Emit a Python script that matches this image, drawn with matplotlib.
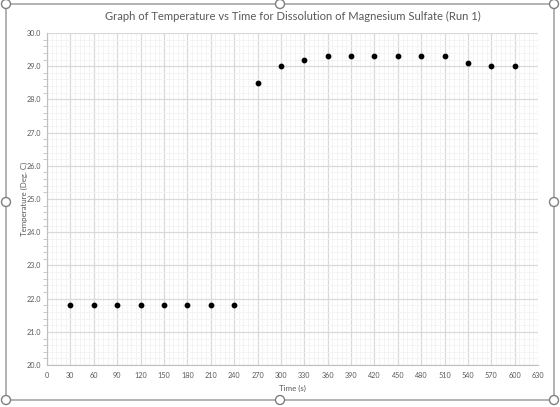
import numpy as np
import matplotlib.pyplot as plt
from matplotlib.patches import Rectangle, Circle
from matplotlib.ticker import MultipleLocator

time_s = [30, 60, 90, 120, 150, 180, 210, 240, 270, 300,
          330, 360, 390, 420, 450, 480, 510, 540, 570, 600]
temp_c = [21.8, 21.8, 21.8, 21.8, 21.8, 21.8, 21.8, 21.8, 28.5, 29.0,
          29.2, 29.3, 29.3, 29.3, 29.3, 29.3, 29.3, 29.1, 29.0, 29.0]

plt.rcParams['font.family'] = ['Lato', 'DejaVu Sans']

fig = plt.figure(figsize=(5.6, 4.07), dpi=100)
ax = fig.add_axes([0.084, 0.103, 0.877, 0.816])

ax.scatter(time_s, temp_c, s=10, color='black', zorder=3)

ax.set_xlim(0, 630)
ax.set_ylim(20, 30)
ax.xaxis.set_major_locator(MultipleLocator(30))
ax.xaxis.set_minor_locator(MultipleLocator(6))
ax.yaxis.set_major_locator(MultipleLocator(1))
ax.yaxis.set_minor_locator(MultipleLocator(0.2))
ax.yaxis.set_major_formatter(lambda v, p: f"{v:.1f}")

ax.grid(which='major', color='#d9d9d9', linewidth=0.9)
ax.grid(which='minor', color='#f2f2f2', linewidth=0.6)
ax.set_axisbelow(True)

for s in ['top', 'right']:
    ax.spines[s].set_visible(False)
ax.spines['left'].set_color('#bfbfbf')
ax.spines['bottom'].set_color('#bfbfbf')
ax.tick_params(which='both', axis='x', length=0, labelsize=5.2, labelcolor='#595959', pad=5)
ax.tick_params(which='major', axis='y', length=0, labelsize=5.2, labelcolor='#595959', pad=4.5)
ax.tick_params(which='minor', axis='y', length=3, color='#bfbfbf', direction='out')

ax.set_xlabel("Time (s)", fontsize=5.7, color='#595959', labelpad=4)
ax.set_ylabel("Temperature (Deg. C)", fontsize=5.7, color='#595959', labelpad=-1)
ax.set_title("Graph of Temperature vs Time for Dissolution of Magnesium Sulfate (Run 1)",
             fontsize=8.1, color='#595959', pad=9)

# chart selection frame with handles
W, H = 560, 407
fig.patches.append(Rectangle((6 / W, 1 - 400 / H), 548 / W, 396 / H, transform=fig.transFigure,
                             fill=False, edgecolor='#a6a6a6', linewidth=1.2, zorder=0))
for hx, hy in [(6, 4), (280, 4), (554, 4), (6, 202), (554, 202), (6, 400), (280, 400), (554, 400)]:
    fig.patches.append(Circle((hx, H - hy), 4.5, transform=None, facecolor='white',
                              edgecolor='#7f7f7f', linewidth=1, zorder=5))

fig.savefig("out.png", dpi=100)
